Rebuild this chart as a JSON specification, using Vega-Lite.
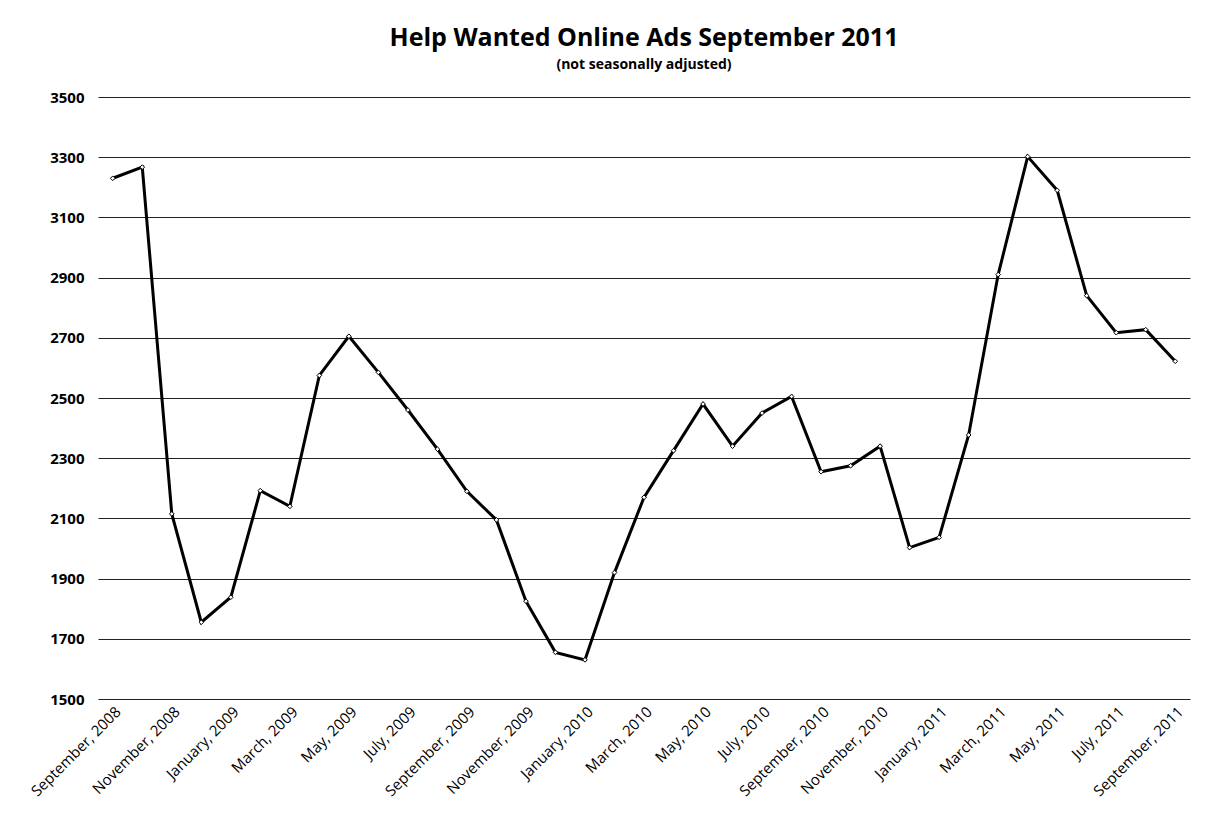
{
  "$schema": "https://vega.github.io/schema/vega-lite/v6.json",
  "width": 1092,
  "height": 602,
  "autosize": {"type": "none"},
  "padding": {"left": 98, "top": 97, "right": 16, "bottom": 118},
  "background": "white",
  "config": {"view": {"stroke": null}, "font": "Open Sans"},
  "title": {
    "text": "Help Wanted Online Ads September 2011",
    "subtitle": "(not seasonally adjusted)",
    "fontSize": 25,
    "fontWeight": "bold",
    "subtitleFontSize": 14,
    "subtitleFontWeight": "bold",
    "subtitleColor": "black",
    "color": "black",
    "anchor": "middle",
    "offset": 18,
    "subtitlePadding": 7
  },
  "data": {
    "values": [
      {"month": "September, 2008", "ads": 3230},
      {"month": "October, 2008", "ads": 3267},
      {"month": "November, 2008", "ads": 2115},
      {"month": "December, 2008", "ads": 1755},
      {"month": "January, 2009", "ads": 1838},
      {"month": "February, 2009", "ads": 2192},
      {"month": "March, 2009", "ads": 2140},
      {"month": "April, 2009", "ads": 2575},
      {"month": "May, 2009", "ads": 2705},
      {"month": "June, 2009", "ads": 2585},
      {"month": "July, 2009", "ads": 2460},
      {"month": "August, 2009", "ads": 2330},
      {"month": "September, 2009", "ads": 2190},
      {"month": "October, 2009", "ads": 2095},
      {"month": "November, 2009", "ads": 1825},
      {"month": "December, 2009", "ads": 1655},
      {"month": "January, 2010", "ads": 1630},
      {"month": "February, 2010", "ads": 1920},
      {"month": "March, 2010", "ads": 2170},
      {"month": "April, 2010", "ads": 2325},
      {"month": "May, 2010", "ads": 2480},
      {"month": "June, 2010", "ads": 2340},
      {"month": "July, 2010", "ads": 2450},
      {"month": "August, 2010", "ads": 2505},
      {"month": "September, 2010", "ads": 2255},
      {"month": "October, 2010", "ads": 2275},
      {"month": "November, 2010", "ads": 2340},
      {"month": "December, 2010", "ads": 2003},
      {"month": "January, 2011", "ads": 2037},
      {"month": "February, 2011", "ads": 2377},
      {"month": "March, 2011", "ads": 2910},
      {"month": "April, 2011", "ads": 3302},
      {"month": "May, 2011", "ads": 3190},
      {"month": "June, 2011", "ads": 2840},
      {"month": "July, 2011", "ads": 2717},
      {"month": "August, 2011", "ads": 2727},
      {"month": "September, 2011", "ads": 2622}
    ]
  },
  "mark": {
    "type": "line",
    "color": "black",
    "strokeWidth": 3,
    "point": {"shape": "diamond", "filled": false, "fill": "white", "stroke": "black", "strokeWidth": 1, "size": 22}
  },
  "encoding": {
    "x": {
      "field": "month",
      "type": "ordinal",
      "sort": null,
      "scale": {"type": "point", "padding": 0.5},
      "axis": {
        "title": null,
        "values": ["September, 2008", "November, 2008", "January, 2009", "March, 2009", "May, 2009", "July, 2009", "September, 2009", "November, 2009", "January, 2010", "March, 2010", "May, 2010", "July, 2010", "September, 2010", "November, 2010", "January, 2011", "March, 2011", "May, 2011", "July, 2011", "September, 2011"],
        "labelAngle": -45,
        "labelFontSize": 15,
        "labelColor": "black",
        "labelPadding": 5,
        "ticks": false,
        "domain": false,
        "grid": false
      }
    },
    "y": {
      "field": "ads",
      "type": "quantitative",
      "scale": {"domain": [1500, 3500], "nice": false, "zero": false},
      "axis": {
        "title": null,
        "format": "d",
        "values": [1500, 1700, 1900, 2100, 2300, 2500, 2700, 2900, 3100, 3300, 3500],
        "labelFontSize": 15,
        "labelFontWeight": "bold",
        "labelColor": "black",
        "labelPadding": 14,
        "ticks": false,
        "domain": false,
        "grid": true,
        "gridColor": "#222222",
        "gridWidth": 1.2,
        "gridOpacity": 1
      }
    }
  }
}
